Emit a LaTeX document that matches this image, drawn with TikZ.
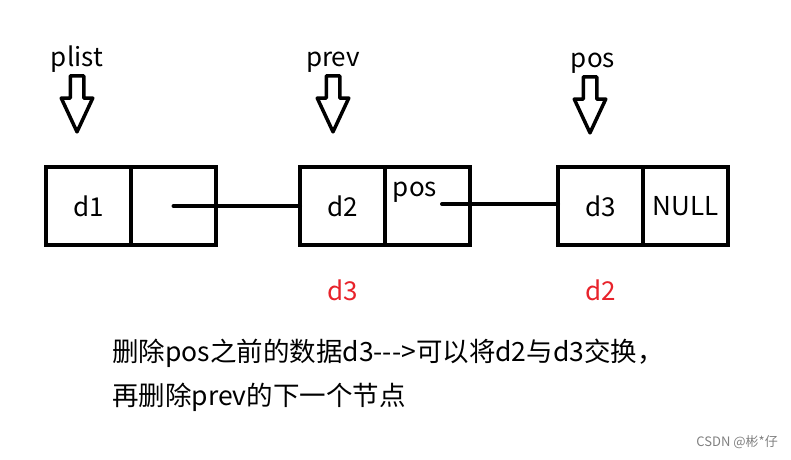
\documentclass[tikz,border=0pt]{standalone}
\usepackage{fontspec}
\setmainfont{Noto Sans CJK SC}
\usetikzlibrary{positioning, shapes.arrows}
\definecolor{rojo}{RGB}{232,35,43}

\begin{document}
\begin{tikzpicture}[
            x=1pt, y=1pt,
            font=\fontsize{26}{30}\selectfont,
            parte/.style={draw, line width=4pt, minimum width=85pt, minimum height=78pt, inner sep=0pt, outer sep=0pt},
            puntero/.style={single arrow, draw, line width=3.5pt, line join=round, shape border rotate=270,
                single arrow head extend=9pt, single arrow tip angle=50, inner sep=5pt, minimum height=56pt, anchor=tip},
            etiqueta/.style={text height=19pt, text depth=5pt, inner sep=2pt},
            enlace/.style={line width=4pt, line cap=round}
        ]
        \useasboundingbox (0,0) rectangle (791,-459);

        % --- Nodos de la lista ---
        \node[parte] (d1) at (88.5,-206) {d1};
        \node[parte, right=0pt of d1] (d1next) {};
        \node[parte, right=84pt of d1next] (d2) {d2};
        \node[parte, right=0pt of d2] (d2next) {};
        \node[parte, right=88pt of d2next] (d3) {d3};
        \node[parte, right=0pt of d3] (d3next) {NULL};
        \node[anchor=base, etiqueta] (d2pos) at (415,-196) {pos};

        % --- Punteros ---
        \node[puntero] (flechaplist) at (77,-136) {};
        \node[puntero] (flechaprev) at (333,-136) {};
        \node[puntero] (flechapos) at (590,-137) {};
        \node[etiqueta, above=0pt of flechaplist.tail] {plist};
        \node[etiqueta, above=0pt of flechaprev.tail] {prev};
        \node[etiqueta, above=0pt of flechapos.tail, xshift=3pt] {pos};

        % --- Enlaces ---
        \coordinate (salida2) at (442,-204);
        \draw[enlace] (d1next.center) -- (d2.west);
        \draw[enlace] (salida2) -- (salida2 -| d3.west);

        % --- Valores tras el intercambio ---
        \node[etiqueta, text=rojo, below=34pt of d2] {d3};
        \node[etiqueta, text=rojo, below=34pt of d3] {d2};

        % --- Nota ---
        \node[anchor=base west, inner sep=0pt, align=left, font=\fontsize{26.5}{44}\selectfont] (nota) at (112,-405)
        {删除pos之前的数据d3-{}-{}->可以将d2与d3交换，\\再删除prev的下一个节点};
        \node[anchor=base east, inner sep=0pt, text=gray, font=\fontsize{13}{15}\selectfont] (marca) at (778,-446) {CSDN @彬*仔};

        \end{tikzpicture}
\end{document}
